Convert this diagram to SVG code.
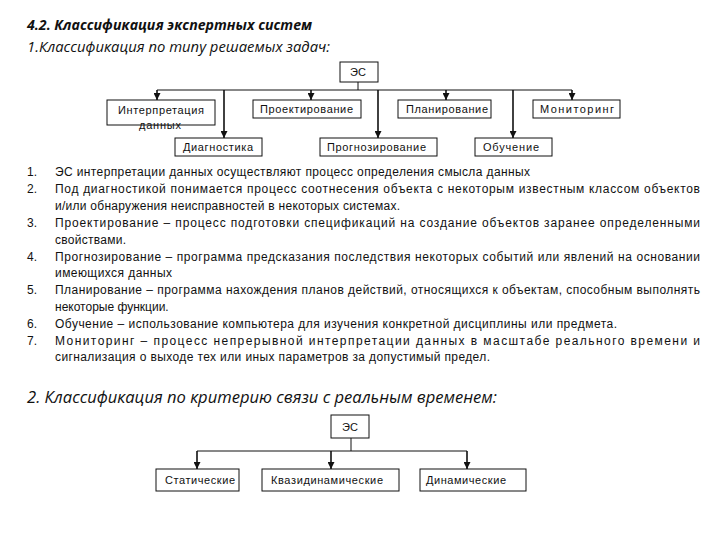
<svg xmlns="http://www.w3.org/2000/svg" width="720" height="540" viewBox="0 0 720 540">
<defs>
<style>
.bg{fill:#fff}
.box{fill:none;stroke:#111;stroke-width:1}
.lbl{font-family:"Liberation Sans",Arial,sans-serif;font-size:11px;fill:#111}
.ln{stroke:#111;stroke-width:1;fill:none}
.ar{stroke:#111;stroke-width:1.6;fill:none}
.h1{font-family:"Open Sans","Liberation Sans",sans-serif;font-size:13.5px;font-weight:bold;font-style:italic;fill:#111}
.h2{font-family:"Open Sans","Liberation Sans",sans-serif;font-size:14px;font-style:italic;fill:#111}
.h3{font-family:"Open Sans","Liberation Sans",sans-serif;font-size:16px;font-style:italic;fill:#111}
.tx{font-family:"Liberation Sans",Arial,sans-serif;font-size:12px;fill:#111}
</style>
<marker id="ah" viewBox="0 0 10 10" refX="10" refY="5" markerWidth="7" markerHeight="7" markerUnits="userSpaceOnUse" orient="auto">
<path d="M0,0 L10,5 L0,10 z" fill="#111"/>
</marker>
</defs>
<rect class="bg" x="0" y="0" width="720" height="540"/>

<text class="h1" x="27" y="30" textLength="285" lengthAdjust="spacingAndGlyphs">4.2. Классификация экспертных систем</text>
<text class="h2" x="27" y="52" textLength="303" lengthAdjust="spacingAndGlyphs">1.Классификация по типу решаемых задач:</text>

<g id="connectors1">
<line class="ln" x1="358" y1="82" x2="358" y2="90"/>
<line class="ln" x1="157" y1="90" x2="572" y2="90"/>
<line class="ar" x1="157" y1="90" x2="157" y2="100" marker-end="url(#ah)"/>
<line class="ar" x1="224" y1="90" x2="224" y2="138" marker-end="url(#ah)"/>
<line class="ar" x1="311" y1="90" x2="311" y2="100" marker-end="url(#ah)"/>
<line class="ar" x1="378" y1="90" x2="378" y2="138" marker-end="url(#ah)"/>
<line class="ar" x1="446" y1="90" x2="446" y2="100" marker-end="url(#ah)"/>
<line class="ar" x1="513" y1="90" x2="513" y2="138" marker-end="url(#ah)"/>
<line class="ar" x1="572" y1="90" x2="572" y2="100" marker-end="url(#ah)"/>
</g>

<g id="es1"><rect class="box" x="340" y="62" width="38" height="20"/><text class="lbl" x="358" y="76" text-anchor="middle">ЭС</text></g>
<g id="interp"><rect class="box" x="107" y="100" width="108" height="25"/><text class="lbl" x="118" y="114" textLength="86" lengthAdjust="spacing">Интерпретация</text><text class="lbl" x="139" y="129" textLength="42" lengthAdjust="spacing">данных</text></g>
<g id="diag"><rect class="box" x="175" y="138" width="87" height="18"/><text class="lbl" x="183" y="151" textLength="70" lengthAdjust="spacing">Диагностика</text></g>
<g id="proekt"><rect class="box" x="253" y="100" width="108" height="18"/><text class="lbl" x="260" y="113" textLength="93" lengthAdjust="spacing">Проектирование</text></g>
<g id="prognoz"><rect class="box" x="320" y="138" width="117" height="18"/><text class="lbl" x="327" y="151" textLength="99" lengthAdjust="spacing">Прогнозирование</text></g>
<g id="plan"><rect class="box" x="398" y="100" width="93" height="18"/><text class="lbl" x="406" y="113" textLength="82" lengthAdjust="spacing">Планирование</text></g>
<g id="obuch"><rect class="box" x="475" y="138" width="77" height="18"/><text class="lbl" x="483" y="151" textLength="56" lengthAdjust="spacing">Обучение</text></g>
<g id="monit"><rect class="box" x="533" y="100" width="87" height="18"/><text class="lbl" x="540" y="113" textLength="74" lengthAdjust="spacing">Мониторинг</text></g>

<g id="list">
<text class="tx" x="27" y="176">1.</text>
<text class="tx" x="55" y="176" textLength="475" lengthAdjust="spacing">ЭС интерпретации данных осуществляют процесс определения смысла данных</text>
<text class="tx" x="27" y="193">2.</text>
<text class="tx" x="55" y="193" textLength="645" lengthAdjust="spacing">Под диагностикой понимается процесс соотнесения объекта с некоторым известным классом объектов</text>
<text class="tx" x="55" y="210" textLength="345" lengthAdjust="spacing">и/или обнаружения неисправностей в некоторых системах.</text>
<text class="tx" x="27" y="227">3.</text>
<text class="tx" x="55" y="227" textLength="645" lengthAdjust="spacing">Проектирование – процесс подготовки спецификаций на создание объектов заранее определенными</text>
<text class="tx" x="55" y="244" textLength="71" lengthAdjust="spacing">свойствами.</text>
<text class="tx" x="27" y="261">4.</text>
<text class="tx" x="55" y="261" textLength="645" lengthAdjust="spacing">Прогнозирование – программа предсказания последствия некоторых событий или явлений на основании</text>
<text class="tx" x="55" y="277" textLength="117" lengthAdjust="spacing">имеющихся данных</text>
<text class="tx" x="27" y="294">5.</text>
<text class="tx" x="55" y="294" textLength="645" lengthAdjust="spacing">Планирование – программа нахождения планов действий, относящихся к объектам, способным выполнять</text>
<text class="tx" x="55" y="311">некоторые функции.</text>
<text class="tx" x="27" y="328">6.</text>
<text class="tx" x="55" y="328" textLength="562" lengthAdjust="spacing">Обучение – использование компьютера для изучения конкретной дисциплины или предмета.</text>
<text class="tx" x="27" y="345">7.</text>
<text class="tx" x="55" y="345" textLength="645" lengthAdjust="spacing">Мониторинг – процесс непрерывной интерпретации данных в масштабе реального времени и</text>
<text class="tx" x="55" y="361" textLength="435" lengthAdjust="spacing">сигнализация о выходе тех или иных параметров за допустимый предел.</text>
</g>

<text class="h3" x="27" y="403" textLength="470" lengthAdjust="spacingAndGlyphs">2. Классификация по критерию связи с реальным временем:</text>

<g id="connectors2">
<line class="ln" x1="351" y1="438" x2="351" y2="451"/>
<line class="ln" x1="197" y1="451" x2="467" y2="451"/>
<line class="ar" x1="197" y1="451" x2="197" y2="469" marker-end="url(#ah)"/>
<line class="ar" x1="331" y1="451" x2="331" y2="469" marker-end="url(#ah)"/>
<line class="ar" x1="467" y1="451" x2="467" y2="469" marker-end="url(#ah)"/>
</g>

<g id="es2"><rect class="box" x="331" y="415" width="38" height="23"/><text class="lbl" x="350" y="431" text-anchor="middle">ЭС</text></g>
<g id="stat"><rect class="box" x="156" y="469" width="83" height="22"/><text class="lbl" x="165" y="484" textLength="70" lengthAdjust="spacing">Статические</text></g>
<g id="kvazi"><rect class="box" x="262" y="469" width="137" height="22"/><text class="lbl" x="271" y="484" textLength="112" lengthAdjust="spacing">Квазидинамические</text></g>
<g id="dinam"><rect class="box" x="420" y="469" width="106" height="22"/><text class="lbl" x="426" y="484" textLength="80" lengthAdjust="spacing">Динамические</text></g>
</svg>
